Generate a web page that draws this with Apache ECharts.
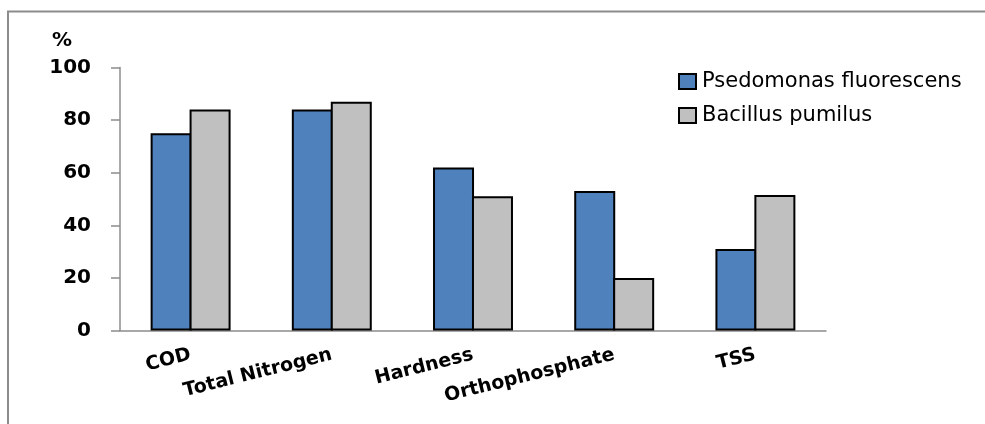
<!DOCTYPE html>
<html>
<head>
<meta charset="utf-8">
<script src="https://cdn.jsdelivr.net/npm/echarts@6/dist/echarts.min.js"></script>
<style>
  html, body { margin: 0; padding: 0; background: #fff; }
  #chart { width: 985px; height: 424px; }
</style>
</head>
<body>
<div id="chart"></div>
<script>
// Removal efficiency (%) per parameter for each bacterial strain
const categories = ['COD', 'Total Nitrogen', 'Hardness', 'Orthophosphate', 'TSS'];
const pseudomonas = [75, 84, 62, 53, 31];
const bacillus = [84, 87, 51, 20, 51.5];
const seriesNames = ['Psedomonas fluorescens', 'Bacillus pumilus'];
const yTicks = { min: 0, max: 100, step: 20 };

const chart = echarts.init(document.getElementById('chart'), null, { renderer: 'canvas' });

const axisGray = '#8c8c8c';

chart.setOption({
  animation: false,
  backgroundColor: '#fff',
  grid: { left: 120, right: 159, top: 67.5, bottom: 93.5, containLabel: false },
  legend: {
    orient: 'vertical',
    left: 673,
    top: 66,
    itemWidth: 17,
    itemHeight: 15,
    itemGap: 13,
    icon: 'rect',
    textStyle: { fontFamily: 'DejaVu Sans', fontSize: 21, color: '#000', padding: [0, 0, 0, 1] },
    data: seriesNames
  },
  xAxis: {
    type: 'category',
    data: categories,
    axisLine: { lineStyle: { color: axisGray, width: 1.5 } },
    axisTick: { show: false },
    axisLabel: {
      interval: 0,
      rotate: 14,
      margin: 24,
      color: '#000',
      fontFamily: 'DejaVu Sans',
      fontWeight: 'bold',
      fontSize: 19
    }
  },
  yAxis: {
    type: 'value',
    min: yTicks.min,
    max: yTicks.max,
    interval: yTicks.step,
    axisLine: { show: true, lineStyle: { color: axisGray, width: 1.5 } },
    axisTick: { show: true, length: 9, lineStyle: { color: axisGray, width: 1.5 } },
    splitLine: { show: false },
    axisLabel: {
      margin: 29,
      color: '#000',
      fontFamily: 'DejaVu Sans',
      fontWeight: 'bold',
      fontSize: 20
    }
  },
  series: [
    {
      name: seriesNames[0],
      type: 'bar',
      data: pseudomonas,
      barWidth: 41,
      barGap: '-5%',
      itemStyle: { color: '#4f81bd', borderColor: '#000', borderWidth: 2 }
    },
    {
      name: seriesNames[1],
      type: 'bar',
      data: bacillus,
      barWidth: 41,
      barGap: '-5%',
      itemStyle: { color: '#c0c0c0', borderColor: '#000', borderWidth: 2 }
    }
  ],
  graphic: [
    {
      type: 'polyline',
      shape: { points: [[8, 424], [8, 11.5], [985, 11.5]] },
      style: { stroke: axisGray, lineWidth: 2, fill: null },
      silent: true
    },
    {
      type: 'text',
      left: 52,
      top: 31,
      style: { text: '%', fontFamily: 'DejaVu Sans', fontWeight: 'bold', fontSize: 20, fill: '#000' }
    }
  ]
});
</script>
</body>
</html>
